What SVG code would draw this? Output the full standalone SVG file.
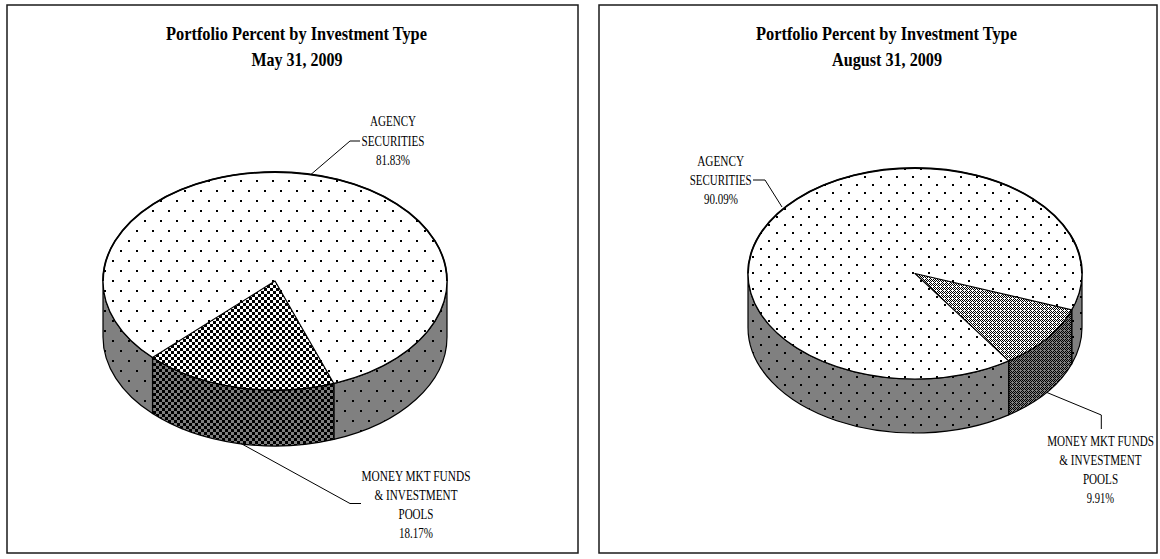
<svg xmlns="http://www.w3.org/2000/svg" width="1160" height="559" viewBox="0 0 1160 559">
<style>
.panel{fill:#fff;stroke:#1a1a1a;stroke-width:1.5}
.title{font-family:"Liberation Serif","Times New Roman",serif;font-weight:bold;font-size:19px;fill:#000;text-anchor:middle}
.lbl{font-family:"Liberation Serif","Times New Roman",serif;font-size:15px;fill:#000;text-anchor:middle}
.edge{stroke:#000;stroke-width:1.2;stroke-linejoin:round}
.rim{fill:none;stroke:#000;stroke-width:1.8}
.lead{fill:none;stroke:#000;stroke-width:1}
</style>
<defs>
<pattern id="dotsL" width="16" height="20" patternUnits="userSpaceOnUse">
<rect width="16" height="20" fill="#fff"/>
<rect x="0" y="0" width="2" height="2" fill="#000"/>
<rect x="8" y="10" width="2" height="2" fill="#000"/>
</pattern>
<pattern id="dotsLg" width="16" height="20" patternUnits="userSpaceOnUse">
<rect width="16" height="20" fill="#808080"/>
<rect x="0" y="0" width="2" height="2" fill="#000"/>
<rect x="8" y="10" width="2" height="2" fill="#000"/>
</pattern>
<pattern id="dotsR" width="16" height="16" patternUnits="userSpaceOnUse">
<rect width="16" height="16" fill="#fff"/>
<rect x="0" y="0" width="2" height="2" fill="#000"/>
<rect x="8" y="8" width="2" height="2" fill="#000"/>
</pattern>
<pattern id="dotsRg" width="16" height="16" patternUnits="userSpaceOnUse">
<rect width="16" height="16" fill="#808080"/>
<rect x="0" y="0" width="2" height="2" fill="#000"/>
<rect x="8" y="8" width="2" height="2" fill="#000"/>
</pattern>
<pattern id="chkL" width="6" height="6" patternUnits="userSpaceOnUse">
<rect width="6" height="6" fill="#fff"/>
<rect x="0" y="0" width="3" height="3" fill="#000"/>
<rect x="3" y="3" width="3" height="3" fill="#000"/>
</pattern>
<pattern id="chkLg" width="6" height="6" patternUnits="userSpaceOnUse">
<rect width="6" height="6" fill="#808080"/>
<rect x="0" y="0" width="3" height="3" fill="#000"/>
<rect x="3" y="3" width="3" height="3" fill="#000"/>
</pattern>
<pattern id="diaR" width="4" height="4" patternUnits="userSpaceOnUse">
<rect width="4" height="4" fill="#fff"/>
<rect x="0" y="0" width="1" height="1" fill="#000"/>
<rect x="1" y="1" width="1" height="1" fill="#000"/>
<rect x="3" y="1" width="1" height="1" fill="#000"/>
<rect x="2" y="2" width="1" height="1" fill="#000"/>
<rect x="1" y="3" width="1" height="1" fill="#000"/>
<rect x="3" y="3" width="1" height="1" fill="#000"/>
<rect x="2" y="0" width="1" height="1" fill="#000"/>
</pattern>
<pattern id="diaRg" width="4" height="4" patternUnits="userSpaceOnUse">
<rect width="4" height="4" fill="#808080"/>
<rect x="0" y="0" width="1" height="1" fill="#000"/>
<rect x="1" y="1" width="1" height="1" fill="#000"/>
<rect x="3" y="1" width="1" height="1" fill="#000"/>
<rect x="2" y="2" width="1" height="1" fill="#000"/>
<rect x="1" y="3" width="1" height="1" fill="#000"/>
<rect x="3" y="3" width="1" height="1" fill="#000"/>
<rect x="2" y="0" width="1" height="1" fill="#000"/>
</pattern>
</defs>

<g id="panel-may">
<rect class="panel" x="7" y="5" width="571" height="548"/>
<text class="title" x="296.5" y="40" textLength="261" lengthAdjust="spacingAndGlyphs">Portfolio Percent by Investment Type</text>
<text class="title" x="297" y="66" textLength="91" lengthAdjust="spacingAndGlyphs">May 31, 2009</text>
</g>

<g id="panel-aug">
<rect class="panel" x="599" y="5" width="558" height="548"/>
<text class="title" x="886.5" y="40" textLength="261" lengthAdjust="spacingAndGlyphs">Portfolio Percent by Investment Type</text>
<text class="title" x="887" y="66" textLength="110" lengthAdjust="spacingAndGlyphs">August 31, 2009</text>
</g>

<g id="pie-may">
<path class="edge" fill="url(#dotsLg)" d="M447,281 A172,109 0 0 1 333.83,383.43 L333.83,439.43 A172,109 0 0 0 447,337 Z"/>
<path class="edge" fill="url(#chkLg)" d="M333.83,383.43 A172,109 0 0 1 152.52,357.53 L152.52,413.53 A172,109 0 0 0 333.83,439.43 Z"/>
<path class="edge" fill="url(#dotsLg)" d="M152.52,357.53 A172,109 0 0 1 103,281 L103,337 A172,109 0 0 0 152.52,413.53 Z"/>
<ellipse class="edge" cx="275" cy="281" rx="172" ry="109" fill="url(#dotsL)"/>
<path class="edge" fill="url(#chkL)" d="M275,281 L333.83,383.43 A172,109 0 0 1 152.52,357.53 Z"/>
<path class="rim" d="M103,281 A172,109 0 0 1 447,281"/>
</g>

<g id="pie-aug">
<path class="edge" fill="url(#dotsRg)" d="M1082,273.5 A167,105.5 0 0 1 1071.73,309.93 L1071.73,363.93 A167,105.5 0 0 0 1082,327.5 Z"/>
<path class="edge" fill="url(#diaRg)" d="M1071.73,309.93 A167,105.5 0 0 1 1008.69,360.83 L1008.69,414.83 A167,105.5 0 0 0 1071.73,363.93 Z"/>
<path class="edge" fill="url(#dotsRg)" d="M1008.69,360.83 A167,105.5 0 0 1 748,273.5 L748,327.5 A167,105.5 0 0 0 1008.69,414.83 Z"/>
<ellipse class="edge" cx="915" cy="273.5" rx="167" ry="105.5" fill="url(#dotsR)"/>
<path class="edge" fill="url(#diaR)" d="M915,273.5 L1071.73,309.93 A167,105.5 0 0 1 1008.69,360.83 Z"/>
<path class="rim" d="M748,273.5 A167,105.5 0 0 1 1082,273.5"/>
</g>

<g id="connectors">
<polyline class="lead" points="311,174.4 350,141 360,141"/>
<polyline class="lead" points="241,443.5 350,503.5 361,503.5"/>
<polyline class="lead" points="753,180 765,180 782,207"/>
<polyline class="lead" points="1046.7,392.4 1101.3,415 1101.3,429"/>
</g>

<g id="label-may-agency">
<text class="lbl" x="393" y="126" textLength="46" lengthAdjust="spacingAndGlyphs">AGENCY</text>
<text class="lbl" x="393" y="146" textLength="63" lengthAdjust="spacingAndGlyphs">SECURITIES</text>
<text class="lbl" x="393" y="165" textLength="34" lengthAdjust="spacingAndGlyphs">81.83%</text>
</g>
<g id="label-may-money">
<text class="lbl" x="416" y="481" textLength="109" lengthAdjust="spacingAndGlyphs">MONEY MKT FUNDS</text>
<text class="lbl" x="416" y="500" textLength="83" lengthAdjust="spacingAndGlyphs">&amp; INVESTMENT</text>
<text class="lbl" x="416" y="519" textLength="35" lengthAdjust="spacingAndGlyphs">POOLS</text>
<text class="lbl" x="416" y="538" textLength="34" lengthAdjust="spacingAndGlyphs">18.17%</text>
</g>
<g id="label-aug-agency">
<text class="lbl" x="720.7" y="166" textLength="47" lengthAdjust="spacingAndGlyphs">AGENCY</text>
<text class="lbl" x="720.7" y="185" textLength="62" lengthAdjust="spacingAndGlyphs">SECURITIES</text>
<text class="lbl" x="721" y="204" textLength="34" lengthAdjust="spacingAndGlyphs">90.09%</text>
</g>
<g id="label-aug-money" transform="translate(1100.5,0) scale(0.74,1)">
<text class="lbl" x="0" y="446.3">MONEY MKT FUNDS</text>
<text class="lbl" x="0" y="465">&amp; INVESTMENT</text>
<text class="lbl" x="0" y="484.3">POOLS</text>
<text class="lbl" x="0" y="503.3" textLength="37" lengthAdjust="spacingAndGlyphs">9.91%</text>
</g>
</svg>
